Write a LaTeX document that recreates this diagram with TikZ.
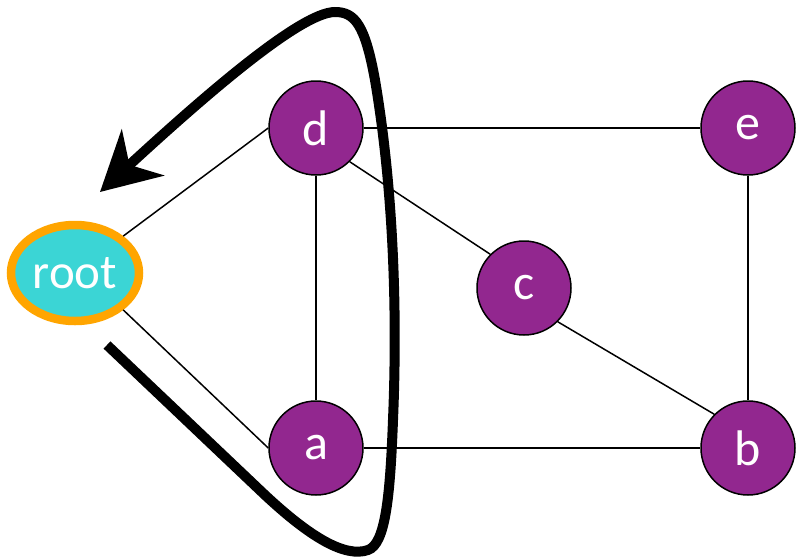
\documentclass[tikz,border=0pt]{standalone}
\usepackage{fontspec}
\setmainfont{Carlito}
\usetikzlibrary{arrows.meta,shapes.geometric}
\definecolor{vnode}{HTML}{92278F}
\definecolor{rootfill}{HTML}{3BD5D5}
\definecolor{rootline}{HTML}{FFA500}
\tikzset{
  vert/.style={circle, draw=black, line width=1.5pt, fill=vnode, minimum size=94pt, inner sep=0pt, text=white, font=\fontsize{50}{50}\selectfont},
  rootv/.style={ellipse, draw=rootline, line width=8.5pt, fill=rootfill, minimum width=128pt, minimum height=96pt, inner sep=0pt, text=white, font=\fontsize{49}{49}\selectfont},
  edge/.style={line width=1.5pt, draw=black},
  bigarrow/.style={line width=10pt, draw=black, -{Stealth[length=58pt, width=62pt, inset=18pt]}}
}
\begin{document}
\begin{tikzpicture}[x=1pt, y=-1pt]
\useasboundingbox (0,0) rectangle (796,558);
\node[rootv] (root) at (75,273) {root};
\node[vert] (d) at (316,128) {d};
\node[vert] (e) at (748,128) {e};
\node[vert] (c) at (524,288) {c};
\node[vert] (a) at (316,448) {a};
\node[vert] (b) at (748,448) {b};
\draw[edge] (root.north east) -- (d.west);
\draw[edge] (root.south east) -- (a.west);
\draw[edge] (d.east) -- (e.west);
\draw[edge] (d.south) -- (a.north);
\draw[edge] (d.south east) -- (c.north west);
\draw[edge] (c.south east) -- (b.north west);
\draw[edge] (a.east) -- (b.west);
\draw[edge] (e.south) -- (b.north);
\coordinate (s) at (107,345);
\coordinate (t) at (100,192);
\draw[bigarrow] (s) -- (265,495) .. controls (310,537) and (345,558) .. (368,550)
  .. controls (385,544) and (390,500) .. (393,420)
  .. controls (398,300) and (392,180) .. (375,80)
  .. controls (365,25) and (355,12) .. (335,12)
  .. controls (300,12) and (200,100) .. (t);
\end{tikzpicture}
\end{document}
